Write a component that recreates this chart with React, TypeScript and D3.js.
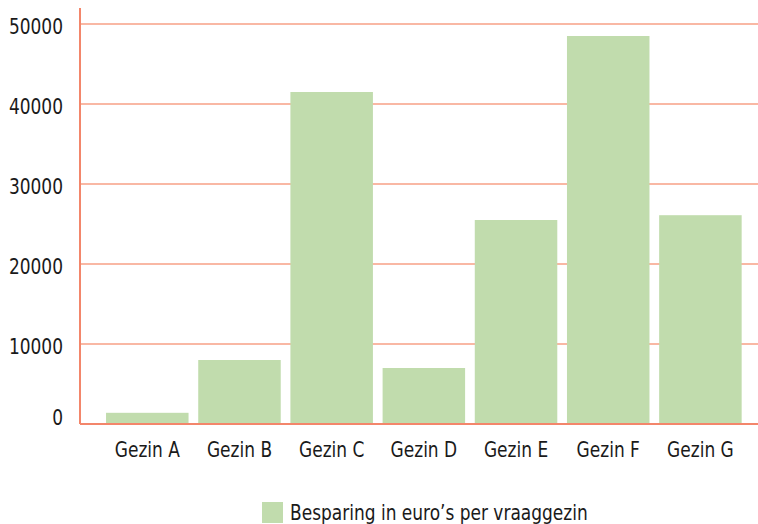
import React from "react";
import * as d3 from "d3";

const categories = ["Gezin A", "Gezin B", "Gezin C", "Gezin D", "Gezin E", "Gezin F", "Gezin G"];
const savings = [1400, 8000, 41500, 7000, 25500, 48500, 26100];
const yTicks = [0, 10000, 20000, 30000, 40000, 50000];
const legendLabel = "Besparing in euro\u2019s per vraaggezin";

const W = 758;
const H = 524;
const FONT = "'Liberation Sans Narrow', 'DejaVu Sans Condensed', 'Roboto Condensed', sans-serif";
const BAR = "#c1dcad";
const GRID = "#f7a086";
const AXIS = "#f3866b";
const SX = 0.86;

function T({ x, y, anchor, children, dy }: { x: number; y: number; anchor?: string; children: React.ReactNode; dy?: string }) {
  return (
    <text
      transform={`translate(${x},${y}) scale(${SX},1)`}
      textAnchor={anchor || "start"}
      dominantBaseline={dy || "auto"}
      fontSize={22}
      fill="#1a1a1a"
    >
      {children}
    </text>
  );
}

export default function App() {
  const x = d3.scaleBand<string>().domain(categories).range([101.2, 746.5]).paddingInner(0.105).paddingOuter(0.0525);
  const y = d3.scaleLinear().domain([0, 52000]).range([424, 8]);

  return (
    <svg width={W} height={H} style={{ position: "absolute", left: 0, top: 0, background: "#fff" }} fontFamily={FONT}>
      {yTicks.filter((t) => t > 0).map((t) => (
        <line key={"g" + t} x1={80} x2={W} y1={y(t)} y2={y(t)} stroke={GRID} strokeWidth={1.6} />
      ))}
      {categories.map((c, i) => (
        <rect key={c} x={x(c)} y={y(savings[i])} width={x.bandwidth()} height={y(0) - y(savings[i])} fill={BAR} />
      ))}
      <line x1={80} x2={80} y1={y(52000)} y2={y(0)} stroke={AXIS} strokeWidth={2} />
      <line x1={80} x2={W} y1={y(0)} y2={y(0)} stroke={AXIS} strokeWidth={2} />
      {yTicks.map((t) => (
        <T key={"t" + t} x={63} y={y(t) + (t === 0 ? -7 : 2)} anchor="end" dy="central">
          {t}
        </T>
      ))}
      {categories.map((c) => (
        <T key={"l" + c} x={(x(c) as number) + x.bandwidth() / 2} y={457} anchor="middle">
          {c}
        </T>
      ))}
      <rect x={262} y={502} width={21} height={21} fill={BAR} />
      <T x={290} y={520}>{legendLabel}</T>
    </svg>
  );
}
